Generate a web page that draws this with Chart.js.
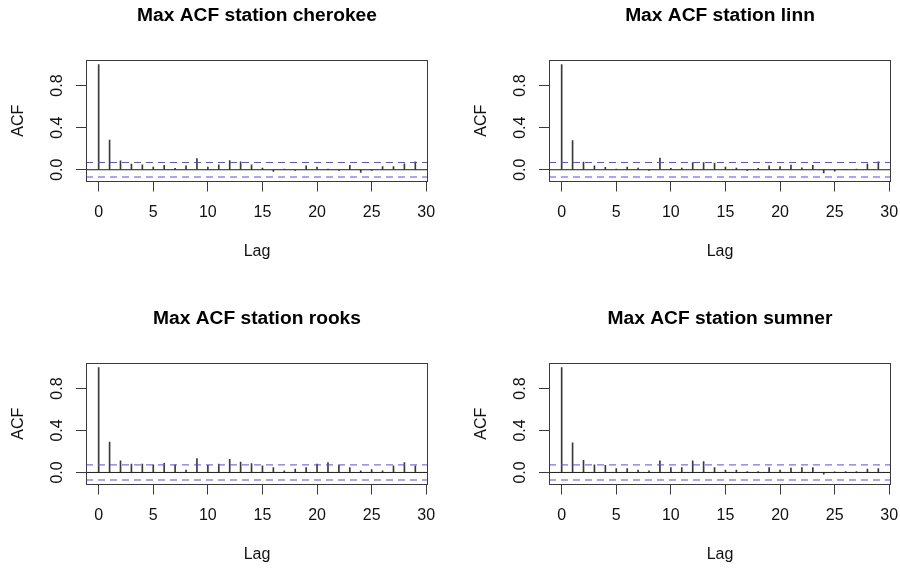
<!DOCTYPE html>
<html>
<head>
<meta charset="utf-8">
<script src="https://cdn.jsdelivr.net/npm/chart.js@4/dist/chart.umd.min.js"></script>
<style>
  html, body { margin: 0; padding: 0; background: #fff; width: 900px; height: 569px; overflow: hidden; position: relative; }
  canvas.panel { position: absolute; }
</style>
</head>
<body>
<canvas id="p1" class="panel" width="450" height="284" style="left:0px;top:0px;width:450px;height:284px"></canvas>
<canvas id="p2" class="panel" width="450" height="284" style="left:463px;top:0px;width:450px;height:284px"></canvas>
<canvas id="p3" class="panel" width="450" height="284" style="left:0px;top:303px;width:450px;height:284px"></canvas>
<canvas id="p4" class="panel" width="450" height="284" style="left:463px;top:303px;width:450px;height:284px"></canvas>
<script>
// Lags 0..29 of the daily maximum series
const lags = [0,1,2,3,4,5,6,7,8,9,10,11,12,13,14,15,16,17,18,19,20,21,22,23,24,25,26,27,28,29];

// Sample autocorrelations per station
const acfCherokee = [1.0,0.283,0.085,0.053,0.047,0.025,0.041,0.013,0.038,0.107,0.025,0.047,0.088,0.075,0.047,0.016,-0.016,0.006,-0.006,0.038,0.025,0.006,-0.006,0.041,-0.025,-0.006,0.031,0.031,0.057,0.075];
const acfLinn     = [1.0,0.277,0.072,0.038,0.022,0.006,0.025,0.016,-0.006,0.110,0.013,0.016,0.069,0.069,0.063,0.025,0.016,-0.006,0.013,0.038,0.031,0.044,0.019,0.041,-0.031,-0.013,0.003,0.006,0.057,0.075];
const acfRooks    = [1.0,0.289,0.110,0.079,0.079,0.072,0.088,0.072,0.022,0.132,0.069,0.079,0.126,0.100,0.085,0.063,0.047,0.016,0.031,0.047,0.079,0.094,0.069,0.047,0.016,0.028,0.016,0.063,0.094,0.063];
const acfSumner   = [1.0,0.283,0.116,0.072,0.069,0.038,0.038,0.022,0.016,0.110,0.047,0.047,0.110,0.104,0.047,0.022,0.022,0.009,0.009,0.047,0.022,0.041,0.047,0.047,-0.016,0.002,0.009,0.009,0.031,0.038];

// 95% significance bounds (±1.96/sqrt(n))
const boundCherokee = 0.069;
const boundLinn     = 0.069;
const boundRooks    = 0.072;
const boundSumner   = 0.072;

const stations = ['cherokee', 'linn', 'rooks', 'sumner'];
const yTickLabels = ['0.0', '0.4', '0.8'];
const xTickStep = 5;
const yTickStep = 0.2;

const FONT = '"Liberation Sans", Arial, Helvetica, sans-serif';

// Frame around the plotting region
const boxPlugin = {
  id: 'plotBox',
  afterDraw(chart) {
    const a = chart.chartArea, ctx = chart.ctx;
    ctx.save();
    ctx.strokeStyle = '#3a3a3a';
    ctx.lineWidth = 1;
    ctx.strokeRect(Math.round(a.left) + 0.5, Math.round(a.top) + 0.5,
                   Math.round(a.right - a.left) - 1, Math.round(a.bottom - a.top));
    ctx.restore();
  }
};

function padRange(lo, hi) {
  const d = (hi - lo) * 0.04;
  return [lo - d, hi + d];
}

function acfPanel(id, station, acf, bound) {
  const [xMin, xMax] = padRange(Math.min(...lags), Math.max(...lags));
  const [yMin, yMax] = padRange(Math.min(-bound, ...acf), Math.max(bound, ...acf));
  const spikes = lags.map((l, i) => ({ x: l, y: acf[i] }));
  const hline = v => [{ x: xMin, y: v }, { x: xMax, y: v }];

  return new Chart(document.getElementById(id), {
    type: 'bar',
    data: {
      datasets: [
        { type: 'line', data: hline(0), borderColor: '#1a1a1a', borderWidth: 1, pointRadius: 0 },
        { type: 'line', data: hline(bound), borderColor: '#4f4ff5', borderWidth: 1, borderDash: [7, 5], pointRadius: 0 },
        { type: 'line', data: hline(-bound), borderColor: '#4f4ff5', borderWidth: 1, borderDash: [7, 5], pointRadius: 0 },
        { type: 'bar', data: spikes, backgroundColor: '#3a3a3a', borderWidth: 0, barThickness: 1 }
      ]
    },
    options: {
      responsive: false,
      devicePixelRatio: 1,
      animation: false,
      events: [],
      layout: { padding: { left: 0, right: 22, top: 0, bottom: 0 } },
      plugins: {
        legend: { display: false },
        tooltip: { enabled: false },
        title: {
          display: true,
          text: 'Max ACF station ' + station,
          fullSize: false,
          color: '#000',
          font: { family: FONT, size: 19.2, weight: 'bold', lineHeight: 1.2 },
          padding: { top: 4, bottom: 33 }
        }
      },
      scales: {
        x: {
          type: 'linear',
          min: xMin, max: xMax,
          offset: false,
          afterFit(s) { s.height = 102.5; },
          grid: { display: true, offset: false, drawOnChartArea: false, drawTicks: true, tickLength: 10, color: '#3a3a3a' },
          border: { display: false },
          ticks: {
            stepSize: xTickStep, includeBounds: false, padding: 11,
            color: '#111', font: { family: FONT, size: 16 },
            maxRotation: 0, autoSkip: false
          },
          title: { display: true, text: 'Lag', color: '#111', font: { family: FONT, size: 16 }, padding: { top: 0, bottom: 22.4 } }
        },
        y: {
          type: 'linear',
          min: yMin, max: yMax,
          afterFit(s) { s.width = 86; },
          grid: { display: true, offset: false, drawOnChartArea: false, drawTicks: true, tickLength: 10, color: '#3a3a3a' },
          border: { display: false },
          ticks: {
            stepSize: yTickStep, includeBounds: false, padding: 7,
            minRotation: 90, maxRotation: 90, crossAlign: 'center',
            color: '#111', font: { family: FONT, size: 16 },
            callback(v) {
              const s = Number(v).toFixed(1);
              return yTickLabels.includes(s) ? s : '';
            }
          },
          title: { display: true, text: 'ACF', color: '#111', font: { family: FONT, size: 16 }, padding: { top: 9.4, bottom: 0 } }
        }
      }
    },
    plugins: [boxPlugin]
  });
}

acfPanel('p1', stations[0], acfCherokee, boundCherokee);
acfPanel('p2', stations[1], acfLinn, boundLinn);
acfPanel('p3', stations[2], acfRooks, boundRooks);
acfPanel('p4', stations[3], acfSumner, boundSumner);
</script>
</body>
</html>
